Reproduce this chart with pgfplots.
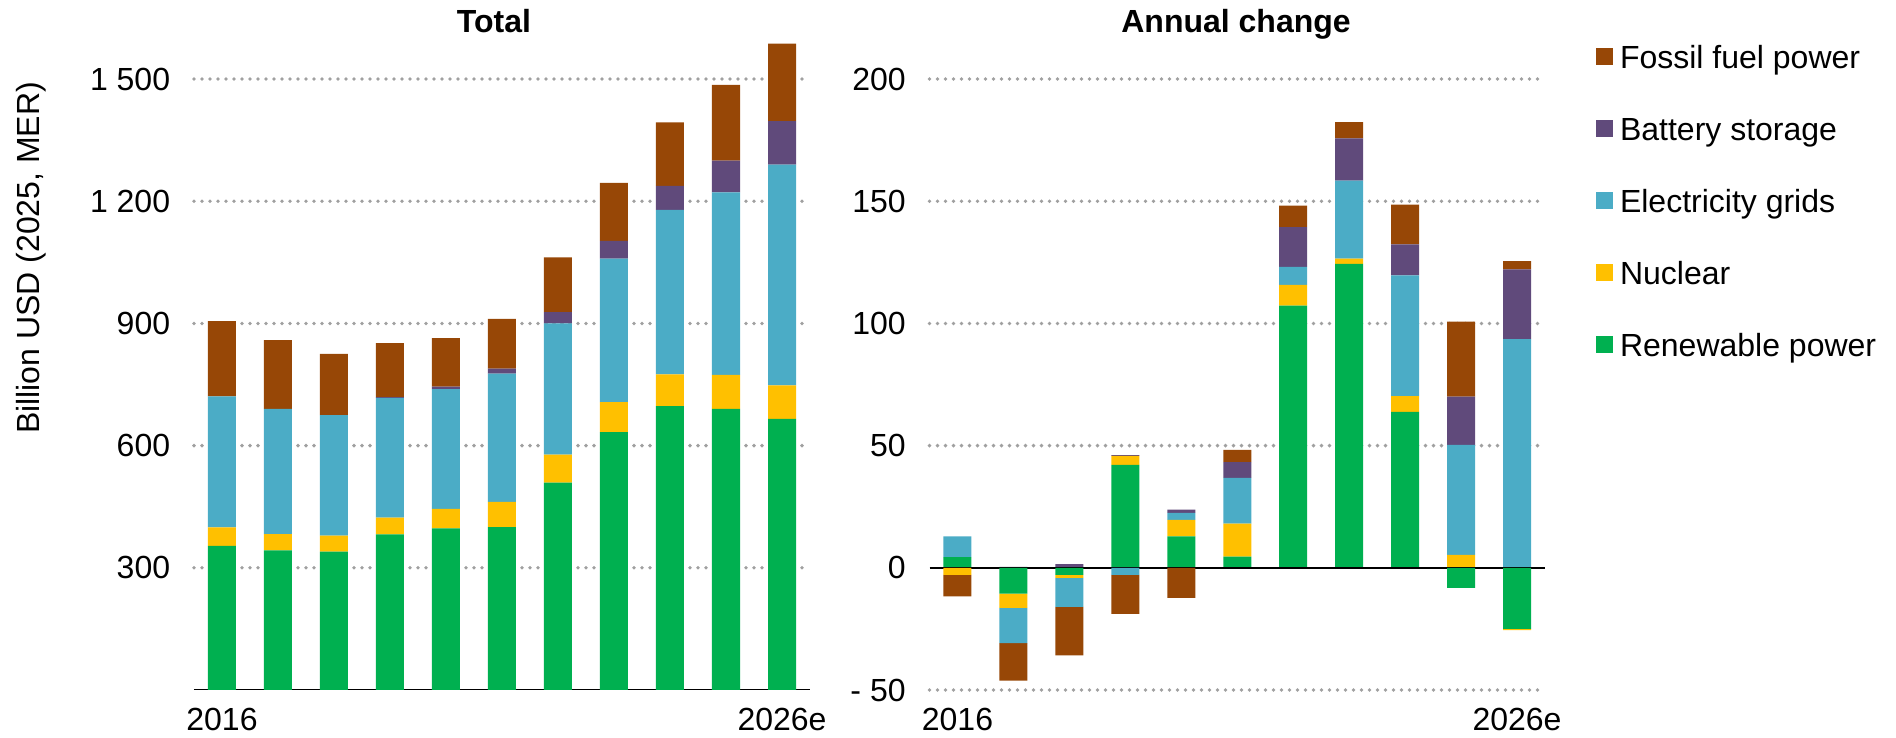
\documentclass[border=0pt]{standalone}
\usepackage{fontspec}
\setmainfont{Liberation Sans}
\usepackage{pgfplots}
\usepackage{pgfplotstable}
\pgfplotsset{compat=1.18}
\definecolor{fossil}{HTML}{974706}
\definecolor{battery}{HTML}{604A7B}
\definecolor{grids}{HTML}{4BACC6}
\definecolor{nuclear}{HTML}{FFC000}
\definecolor{renew}{HTML}{00B050}
\definecolor{gridgray}{HTML}{A0A0A0}

\pgfplotstableread{
x R N G B F
0 354 45 322 0 185
1 343 40 307 0 169
2 340 39 296 0 150
3 382 41 294 2.3 132.5
4 397 48 294 6 119
5 400 62 315 12 122
6 509 69 322 28 134
7 633 74 352 44 142
8 697 78 404 59 156
9 690 84 448 78 186
10 666 82 542 107 190
}\totaltab

\pgfplotstableread{
x R N G B F
0 4.4 0 8.5 0 0
1 0 0 0 0.4 0
2 0 0 0 1.5 0
3 42.1 3.7 0 0.3 0
4 12.9 6.7 2.9 1.3 0
5 4.6 13.5 18.7 6.5 5.0
6 107.3 8.5 7.3 16.3 8.8
7 124.4 2.1 31.9 17.3 6.7
8 63.8 6.5 49.4 12.7 16.2
9 0 5.3 45.0 19.8 30.6
10 0 0 93.6 28.5 3.4
}\changepos

\pgfplotstableread{
x R N G B F
0 0 -2.9 0 0 -8.8
1 -10.6 -5.8 -14.4 0 -15.4
2 -2.9 -1.2 -11.9 0 -19.8
3 0 0 -2.9 0 -16.0
4 0 0 0 0 -12.3
5 0 0 0 0 0
6 0 0 0 0 0
7 0 0 0 0 0
8 0 0 0 0 0
9 -8.2 0 0 0 0
10 -25.0 -0.5 0 0 0
}\changeneg

\pgfplotsset{
  base/.style={
    scale only axis, height=336pt,
    xmin=-0.5, xmax=10.5,
    ybar stacked, bar width=14pt,
    xtick={0,10}, xticklabels={2016,2026e},
    major tick length=0pt,
    axis line style={draw=none},
    tick label style={font=\fontsize{16}{19}\selectfont},
    xticklabel style={yshift=-5.7pt},
    yticklabel style={anchor=east, xshift=-8.4pt},
    ymajorgrids,
    grid style={gridgray, line width=1.9pt, dash pattern=on 0pt off 4pt, line cap=round},
    title style={font=\fontsize{16}{19}\selectfont\bfseries, anchor=base},
    every axis plot/.append style={draw=none},
  },
}

\begin{document}
\begin{tikzpicture}
\path[use as bounding box] (-97pt,-24pt) rectangle (851pt,345pt);
% Left panel: Total
\begin{axis}[base, at={(0,0)}, anchor=south west, width=308pt,
  ymin=0, ymax=1650,
  ytick={300,600,900,1200,1500},
  yticklabels={300,600,900,1 200,1 500},
  title={Total}, title style={at={(0.487,0.9747)}, yshift=-4.8pt},
  ylabel={Billion USD (2025, MER)},
  ylabel style={at={(axis description cs:-0.2516,0.643)}, anchor=base, font=\fontsize{16}{19}\selectfont},
]
\addplot[fill=renew] table[x=x,y=R] {\totaltab};
\addplot[fill=nuclear] table[x=x,y=N] {\totaltab};
\addplot[fill=grids] table[x=x,y=G] {\totaltab};
\addplot[fill=battery] table[x=x,y=B] {\totaltab};
\addplot[fill=fossil] table[x=x,y=F] {\totaltab};
\draw[black, line width=0.75pt] (axis cs:-0.5,0) -- (axis cs:10.5,0);
\end{axis}

% Right panel: Annual change (positive parts + legend)
\begin{axis}[base, at={(367.75pt,0)}, anchor=south west, width=307.75pt,
  ymin=-50, ymax=225,
  ytick={-50,50,100,150,200},
  yticklabels={- 50,50,100,150,200},
  extra y ticks={0}, extra y tick labels={0},
  extra y tick style={grid=none},
  title={Annual change}, title style={at={(0.498,0.9747)}, yshift=-4.8pt},
  reverse legend,
  legend cell align=left,
  legend image code/.code={\fill[#1] (0pt,-2.5pt) rectangle (8.5pt,6pt);},
  legend style={draw=none, fill=none, at={(1.0829,0.9606)}, anchor=north west,
    font=\fontsize{16}{19}\selectfont, row sep=20pt, column sep=3.5pt,
    inner sep=0pt, outer sep=0pt,
    nodes={inner sep=0pt, text height=12pt, text depth=4pt}},
]
\addplot[fill=renew] table[x=x,y=R] {\changepos};
\addlegendentry{Renewable power}
\addplot[fill=nuclear] table[x=x,y=N] {\changepos};
\addlegendentry{Nuclear}
\addplot[fill=grids] table[x=x,y=G] {\changepos};
\addlegendentry{Electricity grids}
\addplot[fill=battery] table[x=x,y=B] {\changepos};
\addlegendentry{Battery storage}
\addplot[fill=fossil] table[x=x,y=F] {\changepos};
\addlegendentry{Fossil fuel power}
\end{axis}

% Right panel: negative parts
\begin{axis}[base, at={(367.75pt,0)}, anchor=south west, width=307.75pt,
  ymin=-50, ymax=225, hide axis]
\addplot[fill=renew] table[x=x,y=R] {\changeneg};
\addplot[fill=nuclear] table[x=x,y=N] {\changeneg};
\addplot[fill=grids] table[x=x,y=G] {\changeneg};
\addplot[fill=battery] table[x=x,y=B] {\changeneg};
\addplot[fill=fossil] table[x=x,y=F] {\changeneg};
\draw[black, line width=0.75pt] (axis cs:-0.5,0) -- (axis cs:10.5,0);
\end{axis}
\end{tikzpicture}
\end{document}
